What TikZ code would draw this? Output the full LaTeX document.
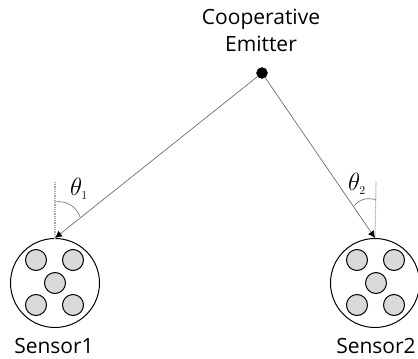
\documentclass[tikz,border=0pt]{standalone}
\usepackage{fontspec}
\setmainfont{Open Sans}
\usepackage{tikz}
\usetikzlibrary{arrows.meta, positioning}
\definecolor{celldgray}{RGB}{217, 217, 217}
\definecolor{linegray}{RGB}{110, 110, 110}
\tikzset{
    sensorbox/.style={draw, circle, minimum size=89pt, inner sep=0pt, line width=1pt},
    cellbox/.style={draw, circle, fill=celldgray, minimum size=21pt, inner sep=0pt, line width=1pt},
    labelbox/.style={inner sep=0pt, font=\fontsize{21pt}{27pt}\selectfont, align=center},
    anglebox/.style={inner sep=0pt, font=\fontsize{25pt}{28pt}\selectfont},
    rayline/.style={linegray, line width=0.7pt, -{Latex[black, length=7pt, width=7pt]}},
    normalline/.style={gray!70, dash pattern=on 1pt off 0.8pt, line width=1.1pt},
    arcline/.style={linegray, line width=0.6pt}
}

\begin{document}
\begin{tikzpicture}[x=1pt, y=-1pt]
    \useasboundingbox (0,0) rectangle (418,359);

    \node[draw, circle, fill=black, minimum size=11pt, inner sep=0pt] (emitter) at (262,73) {};
    \node[labelbox] (emitterlabel) at (261,30) {Cooperative\\Emitter};

    \node[sensorbox] (sensor1) at (55,283) {};
    \node[labelbox] (sensor1label) at (54,346) {Sensor1};
    \node[sensorbox] (sensor2) at (375,283) {};
    \node[labelbox] (sensor2label) at (376,346) {Sensor2};

    % cells of each sensor
    \foreach \dx/\dy/\i in {-19/-23/a, 18/-23/b, 0/0/c, -19/22/d, 18/22/e} {
        \node[cellbox] (cell1\i) at (55+\dx,283+\dy) {};
        \node[cellbox] (cell2\i) at (376+\dx,283+\dy) {};
    }

    \coordinate (top1) at (55,182);
    \coordinate (top2) at (376,182);
    \draw[normalline] (top1) -- (sensor1.north);
    \draw[normalline] (top2) -- (sensor2.north);

    \draw[rayline] (emitter) -- (sensor1.north);
    \draw[rayline] (emitter) -- (sensor2.north);

    % angle marks
    \coordinate (arc1a) at (55,202);
    \coordinate (arc1b) at (80,217);
    \coordinate (arc2a) at (376,200);
    \coordinate (arc2b) at (354,206);
    \draw[arcline] (arc1a) to[bend left=40] (arc1b);
    \draw[arcline] (arc2a) to[bend right=35] (arc2b);

    \node[anglebox] (theta1) at (79,189) {$\theta_{\scriptscriptstyle 1}$};
    \node[anglebox] (theta2) at (357,184) {$\theta_{\scriptscriptstyle 2}$};
\end{tikzpicture}
\end{document}
